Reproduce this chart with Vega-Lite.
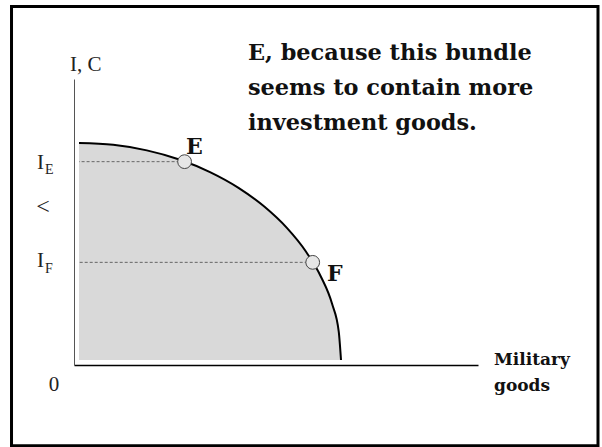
{
  "$schema": "https://vega.github.io/schema/vega-lite/v6.json",
  "width": 404,
  "height": 286,
  "autosize": {"type": "none"},
  "padding": {"left": 74, "top": 79, "right": 124, "bottom": 82},
  "background": "white",
  "config": {
    "view": {"stroke": null},
    "font": "Liberation Serif"
  },
  "datasets": {
    "frontier": [
      {"military": 0.0, "investment": 10.0},
      {"military": 1.305, "investment": 9.914},
      {"military": 2.588, "investment": 9.659},
      {"military": 3.827, "investment": 9.239},
      {"military": 5.0, "investment": 8.66},
      {"military": 6.088, "investment": 7.934},
      {"military": 7.071, "investment": 7.071},
      {"military": 7.934, "investment": 6.088},
      {"military": 8.66, "investment": 5.0},
      {"military": 9.239, "investment": 3.827},
      {"military": 9.659, "investment": 2.588},
      {"military": 9.914, "investment": 1.305},
      {"military": 10.0, "investment": 0.0}
    ],
    "bundles": [
      {"bundle": "E", "military": 4.03, "investment": 9.14},
      {"bundle": "F", "military": 8.92, "investment": 4.5}
    ],
    "frame": [
      {"x1": -2.576, "x2": 19.809, "y1": 16.29, "y2": -3.949}
    ],
    "regularLabels": [
      {"label": "I, C", "x": -0.344, "y": 13.318},
      {"label": "I", "x": -1.603, "y": 8.802},
      {"label": "I", "x": -1.603, "y": 4.286}
    ],
    "subscripts": [
      {"label": "E", "x": -1.298, "y": 8.571},
      {"label": "F", "x": -1.298, "y": 4.009}
    ],
    "centeredLabels": [
      {"label": "0", "x": -0.954, "y": -1.429}
    ],
    "comparison": [
      {"label": "<", "x": -1.374, "y": 7.03}
    ],
    "pointLabels": [
      {"label": "E", "x": 4.084, "y": 9.493},
      {"label": "F", "x": 9.466, "y": 3.641}
    ],
    "answer": [
      {"label": "E, because this bundle", "x": 6.45, "y": 13.825},
      {"label": "seems to contain more", "x": 6.45, "y": 12.212},
      {"label": "investment goods.", "x": 6.45, "y": 10.576}
    ],
    "axisTitle": [
      {"label": "Military", "x": 15.84, "y": -0.23},
      {"label": "goods", "x": 15.84, "y": -1.429}
    ]
  },
  "layer": [
    {
      "data": {"name": "frontier"},
      "mark": {"type": "area", "interpolate": "monotone", "color": "#d9d9d9"},
      "encoding": {
        "x": {
          "field": "military",
          "type": "quantitative",
          "scale": {"domain": [-0.191, 15.229], "nice": false, "zero": false},
          "axis": {"orient": "bottom", "domainColor": "#000000", "domainWidth": 1.5, "ticks": false, "labels": false, "grid": false, "title": null}
        },
        "y": {
          "field": "investment",
          "type": "quantitative",
          "scale": {"domain": [-0.23, 12.949], "nice": false, "zero": false},
          "axis": {"orient": "left", "domainColor": "#555555", "domainWidth": 1, "ticks": false, "labels": false, "grid": false, "title": null}
        },
        "y2": {"datum": 0}
      }
    },
    {
      "data": {"name": "frontier"},
      "mark": {"type": "line", "interpolate": "monotone", "color": "#000000", "strokeWidth": 2},
      "encoding": {
        "x": {"field": "military", "type": "quantitative"},
        "y": {"field": "investment", "type": "quantitative"}
      }
    },
    {
      "data": {"name": "bundles"},
      "mark": {"type": "rule", "color": "#666666", "strokeWidth": 1, "strokeDash": [3, 2]},
      "encoding": {
        "x": {"field": "military", "type": "quantitative"},
        "x2": {"datum": 0},
        "y": {"field": "investment", "type": "quantitative"}
      }
    },
    {
      "data": {"name": "bundles"},
      "mark": {"type": "point", "shape": "circle", "filled": true, "size": 190, "fill": "#e6e6e6", "stroke": "#444444", "strokeWidth": 1, "opacity": 1},
      "encoding": {
        "x": {"field": "military", "type": "quantitative"},
        "y": {"field": "investment", "type": "quantitative"}
      }
    },
    {
      "data": {"name": "frame"},
      "mark": {"type": "rect", "filled": false, "stroke": "#000000", "strokeWidth": 3},
      "encoding": {
        "x": {"field": "x1", "type": "quantitative"},
        "x2": {"field": "x2"},
        "y": {"field": "y1", "type": "quantitative"},
        "y2": {"field": "y2"}
      }
    },
    {
      "data": {"name": "regularLabels"},
      "mark": {"type": "text", "font": "Liberation Serif", "fontSize": 21, "align": "left", "baseline": "alphabetic", "color": "#222222"},
      "encoding": {
        "x": {"field": "x", "type": "quantitative"},
        "y": {"field": "y", "type": "quantitative"},
        "text": {"field": "label"}
      }
    },
    {
      "data": {"name": "subscripts"},
      "mark": {"type": "text", "font": "Liberation Serif", "fontSize": 14, "align": "left", "baseline": "alphabetic", "color": "#222222"},
      "encoding": {
        "x": {"field": "x", "type": "quantitative"},
        "y": {"field": "y", "type": "quantitative"},
        "text": {"field": "label"}
      }
    },
    {
      "data": {"name": "centeredLabels"},
      "mark": {"type": "text", "font": "Liberation Serif", "fontSize": 21, "align": "center", "baseline": "alphabetic", "color": "#222222"},
      "encoding": {
        "x": {"field": "x", "type": "quantitative"},
        "y": {"field": "y", "type": "quantitative"},
        "text": {"field": "label"}
      }
    },
    {
      "data": {"name": "comparison"},
      "mark": {"type": "text", "font": "Liberation Serif", "fontSize": 24, "align": "center", "baseline": "middle", "color": "#222222"},
      "encoding": {
        "x": {"field": "x", "type": "quantitative"},
        "y": {"field": "y", "type": "quantitative"},
        "text": {"field": "label"}
      }
    },
    {
      "data": {"name": "pointLabels"},
      "mark": {"type": "text", "font": "DejaVu Serif", "fontSize": 22, "fontWeight": "bold", "align": "left", "baseline": "alphabetic", "color": "#111111"},
      "encoding": {
        "x": {"field": "x", "type": "quantitative"},
        "y": {"field": "y", "type": "quantitative"},
        "text": {"field": "label"}
      }
    },
    {
      "data": {"name": "answer"},
      "mark": {"type": "text", "font": "DejaVu Serif", "fontSize": 22.4, "fontWeight": "bold", "align": "left", "baseline": "alphabetic", "color": "#111111"},
      "encoding": {
        "x": {"field": "x", "type": "quantitative"},
        "y": {"field": "y", "type": "quantitative"},
        "text": {"field": "label"}
      }
    },
    {
      "data": {"name": "axisTitle"},
      "mark": {"type": "text", "font": "DejaVu Serif", "fontSize": 17, "fontWeight": "bold", "align": "left", "baseline": "alphabetic", "color": "#111111"},
      "encoding": {
        "x": {"field": "x", "type": "quantitative"},
        "y": {"field": "y", "type": "quantitative"},
        "text": {"field": "label"}
      }
    }
  ]
}
